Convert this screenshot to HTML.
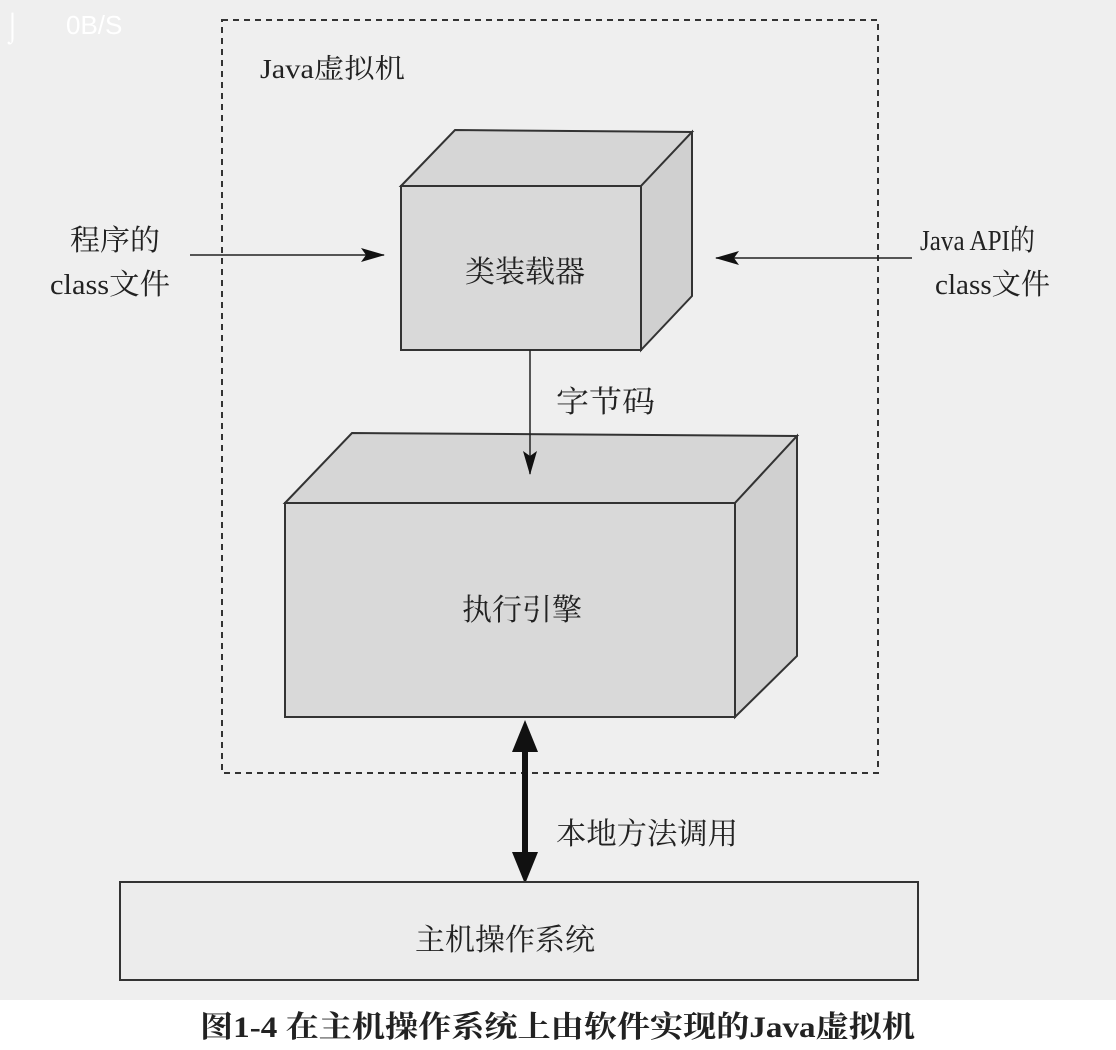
<!DOCTYPE html>
<html><head><meta charset="utf-8"><style>
body{margin:0;width:1116px;height:1050px;overflow:hidden;background:#fff}
svg{display:block}
text{font-family:"Liberation Serif","Noto Serif CJK SC",serif;fill:#222}
</style></head><body>
<svg width="1116" height="1050" viewBox="0 0 1116 1050">
<defs>
<marker id="ah" markerWidth="24" markerHeight="16" refX="23" refY="8" orient="auto" markerUnits="userSpaceOnUse">
<path d="M0,1 L24,8 L0,15 L5,8 Z" fill="#111"/></marker>
</defs>
<rect x="0" y="0" width="1116" height="1000" fill="#efefef"/>
<text x="4" y="36" font-size="28" style="fill:#fff;font-family:'Liberation Sans',sans-serif">⌡</text>
<text x="66" y="34" font-size="26" style="fill:#fff;font-family:'Liberation Sans',sans-serif">0B/S</text>
<rect x="222" y="20" width="656" height="753" fill="none" stroke="#333" stroke-width="2" stroke-dasharray="6,5"/>
<text x="260" y="78" font-size="27" textLength="145" lengthAdjust="spacingAndGlyphs">Java虚拟机</text>
<polygon points="401,186 455,130 692,132 641,186" fill="#d6d6d6" stroke="#333" stroke-width="2"/>
<polygon points="641,186 692,132 692,296 641,350" fill="#d0d0d0" stroke="#333" stroke-width="2"/>
<rect x="401" y="186" width="240" height="164" fill="#d9d9d9" stroke="#333" stroke-width="2"/>
<text x="525" y="282" font-size="30" text-anchor="middle">类装载器</text>
<polygon points="285,503 352,433 797,436 735,503" fill="#d6d6d6" stroke="#333" stroke-width="2"/>
<polygon points="735,503 797,436 797,656 735,717" fill="#d0d0d0" stroke="#333" stroke-width="2"/>
<rect x="285" y="503" width="450" height="214" fill="#d9d9d9" stroke="#333" stroke-width="2"/>
<text x="522" y="620" font-size="30" text-anchor="middle">执行引擎</text>
<line x1="530" y1="350" x2="530" y2="474" stroke="#222" stroke-width="1.5" marker-end="url(#ah)"/>
<text x="556" y="412" font-size="30" textLength="99" lengthAdjust="spacingAndGlyphs">字节码</text>
<line x1="190" y1="255" x2="384" y2="255" stroke="#222" stroke-width="1.5" marker-end="url(#ah)"/>
<line x1="912" y1="258" x2="716" y2="258" stroke="#222" stroke-width="1.5" marker-end="url(#ah)"/>
<text x="70" y="250" font-size="29" textLength="90" lengthAdjust="spacingAndGlyphs">程序的</text>
<text x="50" y="294" font-size="29" textLength="120" lengthAdjust="spacingAndGlyphs">class文件</text>
<text x="920" y="250" font-size="29" textLength="115" lengthAdjust="spacingAndGlyphs">Java API的</text>
<text x="935" y="294" font-size="29" textLength="115" lengthAdjust="spacingAndGlyphs">class文件</text>
<line x1="525" y1="745" x2="525" y2="858" stroke="#111" stroke-width="6"/>
<polygon points="525,720 512,752 538,752" fill="#111"/>
<polygon points="525,884 512,852 538,852" fill="#111"/>
<text x="556" y="844" font-size="30" textLength="182" lengthAdjust="spacingAndGlyphs">本地方法调用</text>
<rect x="120" y="882" width="798" height="98" fill="#ececec" stroke="#333" stroke-width="2"/>
<text x="415" y="950" font-size="30" textLength="180" lengthAdjust="spacingAndGlyphs">主机操作系统</text>
<text x="200" y="1037" font-size="30" font-weight="bold" textLength="715" lengthAdjust="spacingAndGlyphs">图1-4  在主机操作系统上由软件实现的Java虚拟机</text>
</svg>
</body></html>
